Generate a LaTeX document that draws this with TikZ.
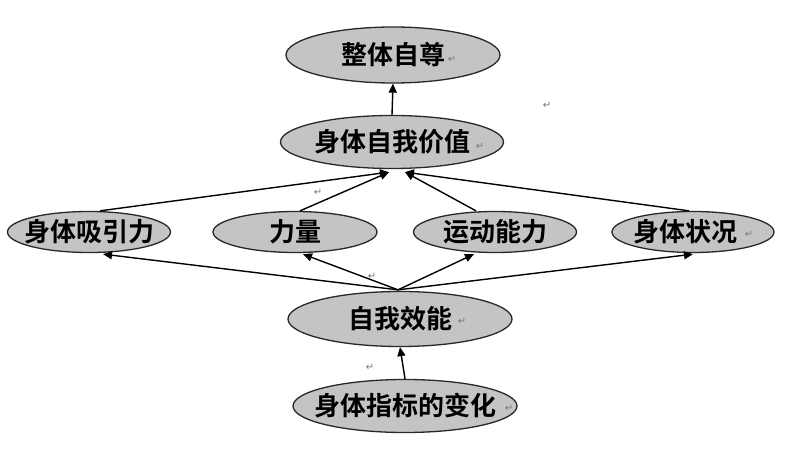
\documentclass[tikz,border=0pt]{standalone}
\usepackage{fontspec}
\usetikzlibrary{shapes.geometric,arrows.meta,calc}
\newfontfamily\cjk{Noto Sans CJK SC}[UprightFont=* Bold]
\newfontfamily\symf{DejaVu Sans}
\definecolor{ellfill}{RGB}{196,196,196}
\definecolor{ellline}{RGB}{40,40,40}
\definecolor{pmark}{RGB}{120,120,120}
\newcommand{\zt}[1]{\makebox[0pt]{#1}}
\tikzset{
  ell/.style={ellipse, draw=ellline, line width=1.3bp, fill=ellfill, inner sep=0pt,
    font=\cjk\fontsize{26bp}{28bp}\selectfont, text=black},
  conn/.style={line width=1.4bp, draw=black, -{Triangle[length=9bp,width=8bp]}},
  pm/.style={font=\symf\fontsize{10bp}{11bp}\selectfont, text=pmark, inner sep=0pt}
}
\begin{document}
\begin{tikzpicture}[x=1bp,y=-1bp]
\useasboundingbox (0,0) rectangle (796,462);
\fill[white] (0,0) rectangle (796,462);
% nodes
\node[ell, minimum width=214bp, minimum height=56bp] (top) at (393,55) {\zt{整体自尊}};
\node[ell, minimum width=223bp, minimum height=53bp] (v) at (392,142) {\zt{身体自我价值}};
\node[ell, minimum width=163bp, minimum height=41bp] (r1) at (89,232) {\zt{身体吸引力}};
\node[ell, minimum width=164bp, minimum height=41bp] (r2) at (295,232) {\zt{力量}};
\node[ell, minimum width=163bp, minimum height=41bp] (r3) at (495,232) {\zt{运动能力}};
\node[ell, minimum width=162bp, minimum height=41bp] (r4) at (693,232) {\zt{\hspace*{-16bp}身体状况}};
\node[ell, minimum width=224bp, minimum height=55bp] (e) at (400,319) {\zt{自我效能}};
\node[ell, minimum width=224bp, minimum height=53bp] (b) at (405,406) {\zt{身体指标的变化}};
% paragraph marks
\node[pm] (p1) at (452,59) {↵};
\node[pm] (p2) at (480,146) {↵};
\node[pm] (p3) at (547,105) {↵};
\node[pm] (p4) at (318,192) {↵};
\node[pm] (p5) at (749,234) {↵};
\node[pm] (p6) at (372,276) {↵};
\node[pm] (p7) at (462,321) {↵};
\node[pm] (p8) at (370,367) {↵};
\node[pm] (p9) at (509,408) {↵};
% connectors
\coordinate (vl) at ($(v.south)+(-3,3)$);
\coordinate (vr) at ($(v.south)+(13,3)$);
\coordinate (ea) at ($(e.north)+(-2,-1)$);
\draw[conn] (v.north) -- (top.south);
\draw[conn] ($(r1.north)+(11,0)$) -- (vl);
\draw[conn] ($(r2.north)+(5,0)$) -- (vl);
\draw[conn] ($(r3.north)+(-19,0)$) -- (vr);
\draw[conn] ($(r4.north)+(-4,0)$) -- (vr);
\draw[conn] (ea) -- ($(r1.south)+(14,1)$);
\draw[conn] (ea) -- ($(r2.south)+(8,1)$);
\draw[conn] (ea) -- ($(r3.south)+(-21,1)$);
\draw[conn] (ea) -- ($(r4.south)+(0,1)$);
\draw[conn] (b.north) -- (e.south);
\end{tikzpicture}
\end{document}
